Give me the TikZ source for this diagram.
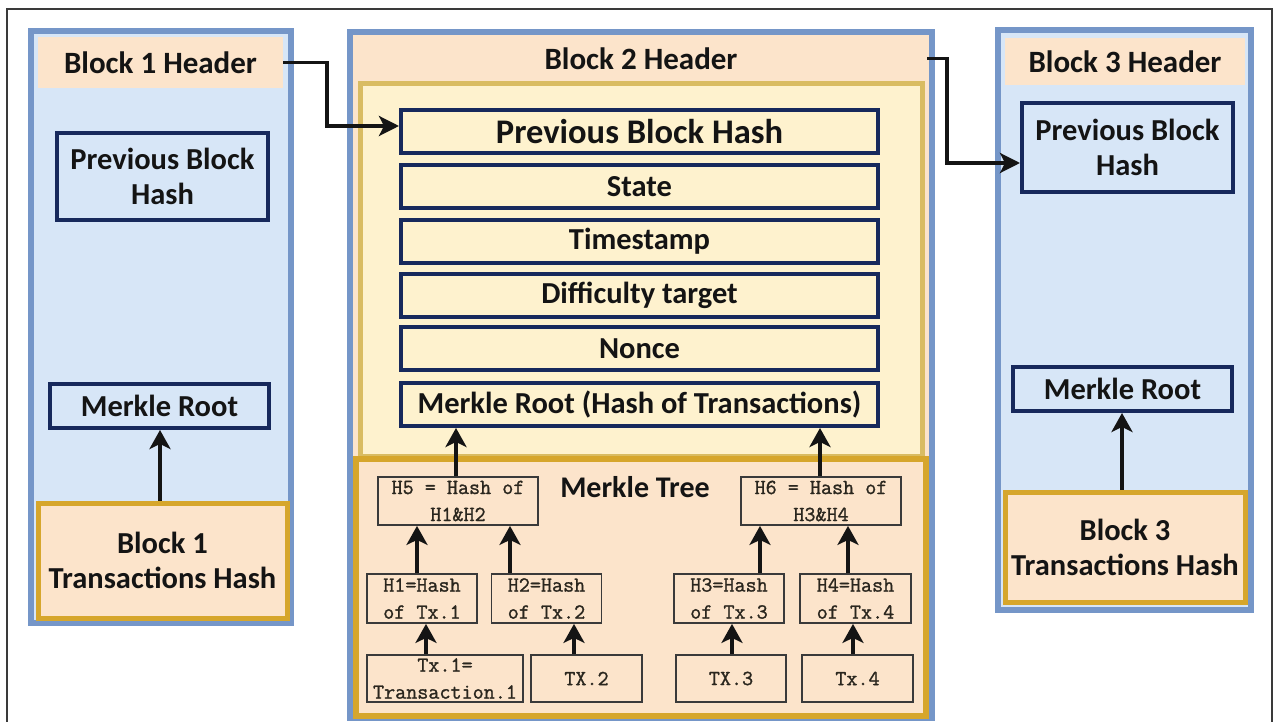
\documentclass[tikz,border=0pt]{standalone}
\usepackage{fontspec}
\setmainfont{Carlito}
\newfontfamily\treemono{Latin Modern Mono}[FakeBold=1.2]
\usetikzlibrary{arrows.meta,calc}
\definecolor{blueedge}{HTML}{7596C8}
\definecolor{bluefill}{HTML}{D7E6F7}
\definecolor{peach}{HTML}{FCE4CB}
\definecolor{gold}{HTML}{D6A62C}
\definecolor{goldsoft}{HTML}{D9BC62}
\definecolor{cream}{HTML}{FEF2CE}
\definecolor{navy}{HTML}{17295C}
\definecolor{ink}{HTML}{141414}
\definecolor{frame}{HTML}{3A3A3A}
\definecolor{monoink}{HTML}{2A261E}
\tikzset{
  sz/.style 2 args={minimum width=#1pt, minimum height=#2pt},
  block/.style={draw=blueedge, line width=6pt, inner sep=0pt},
  hdr/.style={fill=peach, inner sep=0pt, text=ink, font=\bfseries\fontsize{31}{35}\selectfont},
  field/.style={draw=navy, line width=4pt, fill=cream, inner sep=0pt, text=ink, font=\bfseries\fontsize{30.5}{34}\selectfont},
  sidefield/.style={draw=navy, line width=4pt, fill=bluefill, inner sep=0pt, align=center, text=ink, font=\bfseries\fontsize{30.5}{35}\selectfont},
  txhash/.style={draw=gold, line width=5pt, fill=peach, inner sep=0pt, align=center, text=ink, font=\bfseries\fontsize{30.5}{35}\selectfont},
  mbox/.style={draw=frame, line width=1.8pt, fill=peach, inner sep=0pt, align=center, text=monoink, font=\treemono\fontsize{21.5}{27}\selectfont},
  arr/.style={draw=ink, line width=3.5pt, -{Stealth[length=19pt,width=21pt,inset=5pt]}},
  link/.style={draw=ink, line width=3.5pt, -{Stealth[length=20pt,width=20pt,inset=5pt]}},
}
\begin{document}
\begin{tikzpicture}[x=1pt,y=-1pt]
\useasboundingbox (0,0) rectangle (1278,722);
\fill[white] (0,0) rectangle (1278,722);
% page frame
\draw[frame, line width=1.5pt] (7,722) -- (7,9) -- (1272,9) -- (1272,722);

% ---------- Block 1 ----------
\node[block, fill=bluefill, sz={260}{592}] (b1) at (160.5,327) {};
\node[hdr, sz={245}{51}] (b1hdr) at (160.5,62.5) {Block 1 Header};
\node[sidefield, sz={211}{87}] (b1pbh) at (162.5,176.5) {Previous Block\\Hash};
\node[sidefield, sz={219}{44}] (b1mr) at (159.5,406) {Merkle Root};
\node[txhash, sz={249}{115}] (b1tx) at (162.5,560.5) {Block 1\\Transactions Hash};

% ---------- Block 2 ----------
\node[block, fill=peach, sz={582}{686}] (b2) at (641,375) {};
\node[hdr, sz={572}{43}] (b2hdr) at (641,58.5) {Block 2 Header};
\node[draw=goldsoft, line width=5pt, fill=cream, inner sep=0pt, sz={562}{372}] (b2head) at (641,270) {};
\node[draw=gold, line width=6pt, fill=peach, inner sep=0pt, sz={570}{257}] (b2tree) at (641,587.5) {};

\node[field, sz={477}{43}, font=\bfseries\fontsize{34.5}{38}\selectfont] (pbh) at (639.5,131.5) {Previous Block Hash};
\node[field, sz={477}{43}] (state) at (639.5,186.5) {State};
\node[field, sz={477}{43}] (time) at (639.5,241.5) {Timestamp};
\node[field, sz={477}{43}] (diff) at (639.5,295.5) {Difficulty target};
\node[field, sz={477}{43}] (nonce) at (639.5,348.5) {Nonce};
\node[field, sz={477}{43}] (mr) at (639.5,404.5) {Merkle Root (Hash of Transactions)};

\node[text=ink, font=\bfseries\fontsize{30}{34}\selectfont] (mtitle) at (635,487) {Merkle Tree};

\node[mbox, sz={160}{48}] (h5) at (458,501) {H5 = Hash of\\H1\&H2};
\node[mbox, sz={160}{48}] (h6) at (821,501) {H6 = Hash of\\H3\&H4};
\node[mbox, sz={110}{49}] (h1) at (422,598.5) {H1=Hash\\of Tx.1};
\node[mbox, sz={110}{49}] (h2) at (546.5,598.5) {H2=Hash\\of Tx.2};
\node[mbox, sz={110}{49}] (h3) at (729,598.5) {H3=Hash\\of Tx.3};
\node[mbox, sz={111}{49}] (h4) at (855.5,598.5) {H4=Hash\\of Tx.4};
\node[mbox, sz={156}{47}] (tx1) at (445,678.5) {Tx.1=\\Transaction.1};
\node[mbox, sz={111}{47}] (tx2) at (586.5,678.5) {TX.2};
\node[mbox, sz={110}{47}] (tx3) at (731,678.5) {TX.3};
\node[mbox, sz={111}{47}] (tx4) at (857.5,678.5) {Tx.4};

% ---------- Block 3 ----------
\node[block, fill=bluefill, sz={253}{580}] (b3) at (1124.5,320) {};
\node[hdr, sz={240}{47}] (b3hdr) at (1125,61.5) {Block 3 Header};
\node[sidefield, sz={211}{89}] (b3pbh) at (1127.5,147.5) {Previous Block\\Hash};
\node[sidefield, sz={219}{44}] (b3mr) at (1122.5,389) {Merkle Root};
\node[txhash, sz={240}{110}] (b3tx) at (1125,547) {Block 3\\Transactions Hash};

% ---------- hash links between headers ----------
\draw[link] (b1hdr.east) -- ++(44,0) |- ([yshift=5.5pt]pbh.west);
\draw[link] (b2hdr.east) -- ++(20,0) |- ([yshift=-15.5pt]b3pbh.west);

% ---------- merkle arrows ----------
\draw[arr] ([xshift=-2.5pt]b1tx.north) -- ([xshift=-2.5pt]b1tx.north |- b1mr.south);
\draw[arr] ([xshift=-3pt]b3tx.north) -- ([xshift=-3pt]b3tx.north |- b3mr.south);

\draw[arr] ([xshift=-2pt]h5.north) -- ([xshift=-2pt]h5.north |- mr.south);
\draw[arr] ([xshift=-1pt]h6.north) -- ([xshift=-1pt]h6.north |- mr.south);

\draw[arr] ([xshift=-5pt]h1.north) -- ([xshift=-5pt]h1.north |- h5.south);
\draw[arr] ([xshift=-36.5pt]h2.north) -- ([xshift=-36.5pt]h2.north |- h5.south);
\draw[arr] ([xshift=31pt]h3.north) -- ([xshift=31pt]h3.north |- h6.south);
\draw[arr] ([xshift=-7.5pt]h4.north) -- ([xshift=-7.5pt]h4.north |- h6.south);

\draw[arr] ([xshift=-19pt]tx1.north) -- ([xshift=-19pt]tx1.north |- h1.south);
\draw[arr] ([xshift=-12.5pt]tx2.north) -- ([xshift=-12.5pt]tx2.north |- h2.south);
\draw[arr] ([xshift=1pt]tx3.north) -- ([xshift=1pt]tx3.north |- h3.south);
\draw[arr] ([xshift=-4.5pt]tx4.north) -- ([xshift=-4.5pt]tx4.north |- h4.south);
\end{tikzpicture}
\end{document}
